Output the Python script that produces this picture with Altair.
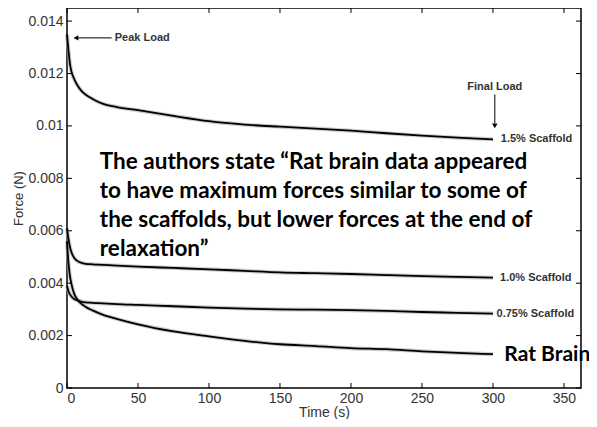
import altair as alt
import pandas as pd

# ---- data ----
time_s = [0, 1, 2, 3, 5, 7, 10, 13, 18, 25, 35, 50, 75, 100, 125, 150, 175, 200, 225, 250, 275, 300]
scaffold_15 = [0.01350, 0.01290, 0.01240, 0.01210, 0.01180, 0.01158, 0.01135, 0.01120, 0.01103, 0.01085,
               0.01072, 0.01060, 0.01038, 0.01018, 0.01005, 0.00997, 0.00990, 0.00982, 0.00972, 0.00963,
               0.00955, 0.00949]
scaffold_10 = [0.00610, 0.00570, 0.00540, 0.00520, 0.00497, 0.00486, 0.00478, 0.00474, 0.00472, 0.00470,
               0.00467, 0.00463, 0.00458, 0.00453, 0.00447, 0.00441, 0.00438, 0.00435, 0.00431, 0.00427,
               0.00424, 0.00421]
scaffold_075 = [0.00390, 0.00370, 0.00358, 0.00350, 0.00340, 0.00335, 0.00330, 0.00327, 0.00325, 0.00323,
                0.00320, 0.00317, 0.00312, 0.00307, 0.00303, 0.00300, 0.00299, 0.00297, 0.00294, 0.00290,
                0.00287, 0.00284]
rat_brain = [0.00560, 0.00480, 0.00430, 0.00400, 0.00360, 0.00340, 0.00322, 0.00310, 0.00296, 0.00280,
             0.00264, 0.00243, 0.00216, 0.00197, 0.00180, 0.00167, 0.00160, 0.00152, 0.00148, 0.00140,
             0.00134, 0.00129]
series_names = ["1.5% Scaffold", "1.0% Scaffold", "0.75% Scaffold", "Rat Brain"]
series_values = [scaffold_15, scaffold_10, scaffold_075, rat_brain]

x_ticks = [0, 50, 100, 150, 200, 250, 300, 350]
y_ticks = [0, 0.002, 0.004, 0.006, 0.008, 0.010, 0.012, 0.014]

small_labels = ["1.5% Scaffold", "1.0% Scaffold", "0.75% Scaffold"]
small_label_t = [305.5, 305.0, 302.5]
small_label_f = [0.00949, 0.00418, 0.00281]

big_text = ("The authors state \u201cRat brain data appeared\n"
            "to have maximum forces similar to some of\n"
            "the scaffolds, but lower forces at the end of\n"
            "relaxation\u201d")

rows = []
for name, vals in zip(series_names, series_values):
    for t, f in zip(time_s, vals):
        rows.append({"series": name, "t": t, "f": f})
df = pd.DataFrame(rows)

W, H = 514, 380
AX_FONT = "Liberation Sans"
xscale = alt.Scale(domain=[0, 362], nice=False, zero=False)
yscale = alt.Scale(domain=[0, 0.0145], nice=False)

x_axis = alt.Axis(values=x_ticks, tickSize=0, domain=False, grid=False, labelFont=AX_FONT,
                  labelFontSize=14, labelColor="#333", labelPadding=3, title="Time (s)",
                  titleFont=AX_FONT, titleFontSize=14, titleFontWeight="normal", titleColor="#333",
                  titlePadding=0)
y_axis = alt.Axis(values=y_ticks, tickSize=0, domain=False, grid=False, format="~g", labelFont=AX_FONT,
                  labelFontSize=14, labelColor="#333", labelPadding=4, title="Force (N)",
                  titleFont=AX_FONT, titleFontSize=13, titleFontWeight="normal", titleColor="#333",
                  titlePadding=2)


def X():
    return alt.X("t:Q", scale=xscale, axis=x_axis)


def Y():
    return alt.Y("f:Q", scale=yscale, axis=y_axis)


raw = alt.Chart(df).mark_line(color="#aaaaaa", strokeWidth=4, opacity=0.6, interpolate="monotone").encode(
    x=X(), y=Y(), detail="series:N")
fit = alt.Chart(df).mark_line(color="black", strokeWidth=1.8, interpolate="monotone").encode(
    x=X(), y=Y(), detail="series:N")

xt = pd.DataFrame({"t": x_ticks})
yt = pd.DataFrame({"f": y_ticks})
tick_b = alt.Chart(xt).mark_rule(color="black").encode(x=X(), y=alt.value(H), y2=alt.value(H - 5))
tick_t = alt.Chart(xt).mark_rule(color="black").encode(x=X(), y=alt.value(0), y2=alt.value(5))
tick_l = alt.Chart(yt).mark_rule(color="black").encode(y=Y(), x=alt.value(0), x2=alt.value(5))
tick_r = alt.Chart(yt).mark_rule(color="black").encode(y=Y(), x=alt.value(W), x2=alt.value(W - 5))

lab_df = pd.DataFrame({"t": small_label_t, "f": small_label_f, "label": small_labels})
labels = alt.Chart(lab_df).mark_text(align="left", baseline="middle", font=AX_FONT, fontSize=11,
                                     fontWeight="bold", color="#333").encode(x=X(), y=Y(), text="label:N")

rat = alt.Chart(pd.DataFrame({"t": [308], "f": [0.00125], "label": ["Rat Brain"]})).mark_text(
    align="left", baseline="middle", font="Lato", fontSize=21, fontWeight="bold", color="black").encode(
    x=X(), y=Y(), text="label:N")

peak_txt = alt.Chart(pd.DataFrame({"t": [33.6], "f": [0.01336], "label": ["Peak Load"]})).mark_text(
    align="left", baseline="middle", font=AX_FONT, fontSize=11, fontWeight="bold", color="#333").encode(
    x=X(), y=Y(), text="label:N")
peak_line = alt.Chart(pd.DataFrame({"t": [7.0], "t2": [31.5], "f": [0.01336]})).mark_rule(
    color="black", strokeWidth=1).encode(x=X(), x2="t2:Q", y=Y())
peak_head = alt.Chart(pd.DataFrame({"t": [6.3], "f": [0.01336]})).mark_point(
    shape="triangle-left", filled=True, color="black", size=30, opacity=1).encode(x=X(), y=Y())

final_txt = alt.Chart(pd.DataFrame({"t": [301.3], "f": [0.0115], "label": ["Final Load"]})).mark_text(
    align="center", baseline="middle", font=AX_FONT, fontSize=11, fontWeight="bold", color="#333").encode(
    x=X(), y=Y(), text="label:N")
final_line = alt.Chart(pd.DataFrame({"t": [301.3], "f": [0.0112], "f2": [0.0101]})).mark_rule(
    color="black", strokeWidth=1).encode(x=X(), y=Y(), y2="f2:Q")
final_head = alt.Chart(pd.DataFrame({"t": [301.3], "f": [0.0100]})).mark_point(
    shape="triangle-down", filled=True, color="black", size=30, opacity=1).encode(x=X(), y=Y())

big = alt.Chart(pd.DataFrame({"t": [23.1], "f": [0.00905], "label": [big_text]})).mark_text(
    align="left", baseline="top", lineBreak="\n", lineHeight=29, font="Lato", fontSize=22.5,
    fontWeight="bold", color="black").encode(x=X(), y=Y(), text="label:N")

chart = alt.layer(raw, fit, tick_b, tick_t, tick_l, tick_r, labels, rat, peak_txt, peak_line, peak_head,
                  final_txt, final_line, final_head, big).properties(
    width=W, height=H,
    autosize=alt.AutoSizeParams(type="none"),
    padding={"left": 59, "top": 0, "right": 8, "bottom": 31},
    background="white",
).configure_view(stroke="black", strokeWidth=1.5)

chart.save("out.html", embed_options={"renderer": "svg", "actions": False})
